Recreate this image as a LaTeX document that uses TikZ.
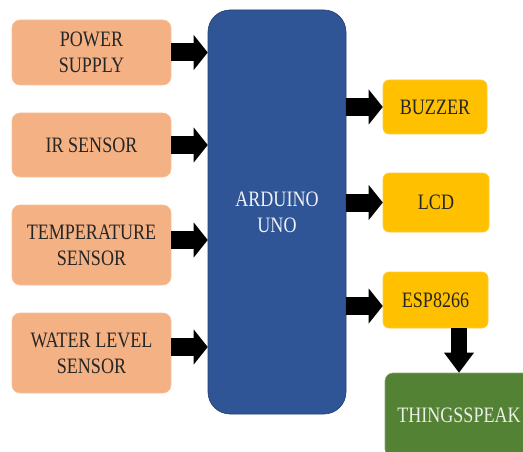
\documentclass[tikz,border=0pt]{standalone}
\usepackage{fontspec}
\newfontfamily\boxfont{Liberation Serif}
\usepackage{xcolor}
\usepackage{tikz}
\usetikzlibrary{arrows.meta,positioning}
\definecolor{inOrange}{HTML}{F4B183}
\definecolor{unoBlue}{HTML}{2F5597}
\definecolor{outYellow}{HTML}{FFC000}
\definecolor{cloudGreen}{HTML}{548235}
\newcommand{\narrow}[1]{\scalebox{0.82}[1]{#1}}
\tikzset{
  inbox/.style={fill=inOrange, draw=inOrange!80!white, line width=0.6pt,
        rounded corners=8pt, minimum width=159pt, inner sep=0pt,
        align=center, text=black!85},
  unobox/.style={fill=unoBlue, draw=unoBlue!70!black, line width=0.6pt,
        rounded corners=22pt, minimum width=138pt, minimum height=404pt,
        inner sep=0pt, align=center, text=white!92!unoBlue},
  outbox/.style={fill=outYellow, draw=outYellow!80!white, line width=0.6pt,
        rounded corners=6pt, inner sep=0pt, align=center, text=black!85},
  cloudbox/.style={fill=cloudGreen, draw=cloudGreen!70!white, line width=0.6pt,
        rounded corners=8pt, minimum width=148pt, minimum height=84pt,
        inner sep=0pt, align=center, text=white!88!cloudGreen},
  bigarrow/.style={draw=black, line width=18pt,
        -{Triangle[length=14pt, width=35pt, line width=0pt]}},
  downarrow/.style={draw=black, line width=16pt,
        -{Triangle[length=20pt, width=30pt, line width=0pt]}}
}

\begin{document}
\begin{tikzpicture}[x=1pt, y=1pt,
  font=\boxfont\fontsize{22}{26}\selectfont]
\clip (0,0) rectangle (523,451);
\useasboundingbox (0,0) rectangle (523,451);

% inputs
\node[inbox, minimum height=65pt] (ps) at (91.5,398.5) {\narrow{POWER}\\\narrow{SUPPLY}};
\node[inbox, minimum height=64pt] (ir) at (91.5,306) {\narrow{IR SENSOR}};
\node[inbox, minimum height=80pt] (tmp) at (91.5,206) {\narrow{TEMPERATURE}\\\narrow{SENSOR}};
\node[inbox, minimum height=80pt] (wl) at (91.5,98) {\narrow{WATER LEVEL}\\\narrow{SENSOR}};

% controller
\node[unobox] (ard) at (277,239) {\narrow{ARDUINO}\\\narrow{UNO}};

% outputs
\node[outbox, minimum width=104pt, minimum height=54pt] (buz) at (435,344) {\narrow{BUZZER}};
\node[outbox, minimum width=106pt, minimum height=59pt] (lcd) at (436,248.5) {\narrow{LCD}};
\node[outbox, minimum width=105pt, minimum height=56pt] (esp) at (435.5,151) {\narrow{ESP8266}};

% cloud
\node[cloudbox] (ts) at (459,36) {\narrow{THINGSSPEAK}};

% arrows into the board
\foreach \b/\dy in {ps/0,ir/0,tmp/5,wl/6}
  \draw[bigarrow] ([yshift=\dy pt]\b.east) -- ([yshift=\dy pt]\b.east -| ard.west);

% arrows out of the board
\foreach \b/\dy in {buz/0,lcd/0,esp/-6}
  \draw[bigarrow] ([yshift=\dy pt]ard.east |- \b.west) -- ([yshift=\dy pt]\b.west);

% esp to cloud
\draw[downarrow] (esp.south -| ts.north) -- (ts.north);
\end{tikzpicture}
\end{document}
